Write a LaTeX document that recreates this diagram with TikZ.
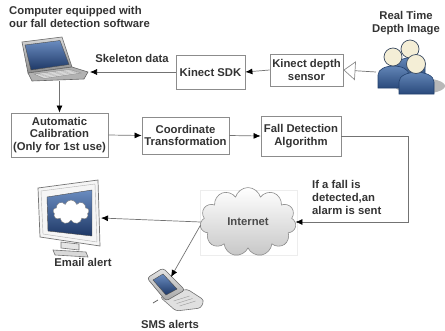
\documentclass[tikz,border=0pt]{standalone}
\usepackage{fontspec}
\setmainfont{Liberation Sans}
\usetikzlibrary{arrows.meta,shapes.symbols,calc}

\definecolor{scrtop}{HTML}{6A8CC0}
\definecolor{scrbot}{HTML}{1E3866}
\definecolor{bodytop}{HTML}{6A8DBE}
\definecolor{bodybot}{HTML}{2A4A7C}
\definecolor{bodyline}{HTML}{22406C}
\definecolor{headfill}{HTML}{F4EED6}
\definecolor{headline}{HTML}{3A4A60}

\newcommand{\lblfont}{\fontsize{11.3}{12.5}\selectfont\bfseries}

\tikzset{
  stepbox/.style={draw=black!45, line width=0.8pt, fill=white, align=center,
    text=black!80, font=\lblfont, inner sep=1pt},
  txt/.style={text=black!80, font=\fontsize{11.3}{13.2}\selectfont\bfseries, inner sep=1pt},
  conn/.style={draw=black!55, line width=0.7pt,
    -{Latex[length=7pt,width=6pt,color=black]}},
  hollowtip/.style={draw=black!55, line width=0.7pt,
    -{Triangle[open,length=12pt,width=19pt,color=black!45]}},
  person body/.style={top color=bodytop, bottom color=bodybot, draw=bodyline, line width=0.6pt},
  person head/.style={fill=headfill, draw=headline, line width=0.7pt},
}

\begin{document}
\begin{tikzpicture}[x=1pt,y=-1pt]
\useasboundingbox (0,0) rectangle (445,330);

% ---------- processing boxes ----------
\node[stepbox, minimum width=69pt, minimum height=34pt] (sdk) at (210.5,72) {Kinect SDK};
\node[stepbox, minimum width=73pt, minimum height=32pt] (sensor) at (306.5,70) {Kinect depth\\sensor};
\node[stepbox, minimum width=97pt, minimum height=44pt] (calib) at (59.5,135) {Automatic\\Calibration\\(Only for 1st use)};
\node[stepbox, minimum width=87pt, minimum height=37pt] (coord) at (185.5,135.5) {Coordinate\\Transformation};
\node[stepbox, minimum width=80pt, minimum height=40pt] (fda) at (301,136) {Fall Detection\\Algorithm};

% ---------- labels ----------
\node[txt, anchor=north west, align=left] (pc) at (8,5) {Computer equipped with\\our fall detection software};
\node[txt] (skel) at (132,58) {Skeleton data};
\node[txt, align=center] (rt) at (406,23) {Real Time\\Depth Image};
\node[txt, anchor=north west, align=left] (alarm) at (311,179) {If a fall is\\detected,an\\alarm is sent};
\node[txt] (emaillbl) at (83,262) {Email alert};
\node[txt] (smslbl) at (170,324) {SMS alerts};

% ---------- laptop ----------
\draw[black!60, line width=0.6pt, top color=black!15, bottom color=black!45]
  (22,42) -- (62,37) -- (72,67) -- (28,73) -- cycle;
\draw[black!70, line width=0.4pt, top color=scrtop, bottom color=scrbot]
  (25,45) -- (60,40.5) -- (69,64.5) -- (31,70) -- cycle;
\draw[black!60, line width=0.6pt, fill=black!30]
  (28,73) -- (72,67) -- (88,72) -- (84,79) -- (32,81) -- cycle;
\draw[black!45, line width=0.4pt, fill=black!12]
  (34,74) -- (70,69.5) -- (81,73) -- (44,78.5) -- cycle;
\foreach \t in {0.25,0.5,0.75}
  \draw[black!35, line width=0.3pt] ($(34,74)!\t!(44,78.5)$) -- ($(70,69.5)!\t!(81,73)$);
\coordinate (laptopkb) at (90,72);
\coordinate (laptopbase) at (59.5,81);

% ---------- people ----------
\fill[black!28] (420,86) ellipse [x radius=25, y radius=8];
\draw[person body] (396,80) -- (396,66) .. controls (396,55) and (425,55) .. (425,66) -- (425,80) -- cycle;
\draw[person head] (410,49) circle [radius=9];
\draw[person body] (378,88) -- (378,75) .. controls (378,63) and (409,63) .. (409,75) -- (409,88) -- cycle;
\draw[person head] (393,57) circle [radius=9];
\draw[person body] (399,94) -- (399,82) .. controls (399,69) and (434,69) .. (434,82) -- (434,94) -- cycle;
\draw[person head] (416,64) circle [radius=9.5];
\coordinate (people) at (376,72);

% ---------- internet cloud ----------
\draw[black!7, line width=0.6pt] (200,190) rectangle (297,255);
\node[cloud, cloud puffs=11, minimum width=96pt, minimum height=58pt,
  draw=black!45, line width=0.6pt, top color=white, bottom color=black!22,
  inner sep=0pt, text=black!70, font=\fontsize{11.3}{13}\selectfont\bfseries] (inet) at (248,222) {Internet};

% ---------- monitor ----------
\draw[black!55, line width=0.7pt, fill=black!4]
  (38,188) -- (98,180) -- (100,246) -- (40,237) -- cycle;
\draw[black!30, line width=0.4pt] (41,191) -- (95,184) -- (97,242) -- (43,234) -- cycle;
\draw[black!70, line width=0.4pt, top color=scrtop, bottom color=scrbot]
  (47,197) -- (92,190) -- (92,236) -- (48,231) -- cycle;
\node[cloud, cloud puffs=9, minimum width=36pt, minimum height=24pt,
  draw=black!50, line width=0.4pt, fill=white, inner sep=0pt] (scrcloud) at (71,212) {};
\draw[black!55, line width=0.6pt, fill=black!10] (61,242) -- (79,244) -- (79,250) -- (61,248) -- cycle;
\draw[black!55, line width=0.6pt, fill=black!15] (53,250) -- (86,252) -- (88,257) -- (55,255) -- cycle;
\coordinate (email) at (101,218);

% ---------- phone ----------
\draw[black!55, line width=0.6pt, fill=black!12, rounded corners=3pt]
  (160,297) -- (187,289) -- (204,300) -- (201,308) -- (176,311) -- cycle;
\foreach \t in {0.3,0.55,0.8}
  \draw[black!40, line width=0.4pt] ($(170,298)!\t!(182,308)$) -- ($(186,293)!\t!(198,303)$);
\draw[black!60, line width=0.6pt, top color=black!10, bottom color=black!35, rounded corners=3pt]
  (147,278) -- (163,268) -- (185,290) -- (166,301) -- cycle;
\draw[black!70, line width=0.4pt, top color=scrtop, bottom color=scrbot]
  (153,280) -- (163,274) -- (177,289) -- (166,295) -- cycle;
\draw[black!60, line width=0.8pt] (158,300) -- (153,303);
\coordinate (sms) at (171,277);

% ---------- connectors ----------
\path (inet.west) ++(0,3) coordinate (inetlow);
\draw[hollowtip] (people) -- (sensor.east);
\draw[conn] (sensor.west) -- (sdk.east);
\draw[conn] (sdk.west) -- (laptopkb);
\draw[conn] (laptopbase) -- (calib.north);
\draw[conn] (calib.east) -- (coord.west);
\draw[conn] (coord.east) -- (fda.west);
\draw[conn] (fda.east) -- ++(67,0) |- (inet.east);
\draw[conn] (inet.west) -- (email);
\draw[conn] (inetlow) -- (sms);
\end{tikzpicture}
\end{document}
